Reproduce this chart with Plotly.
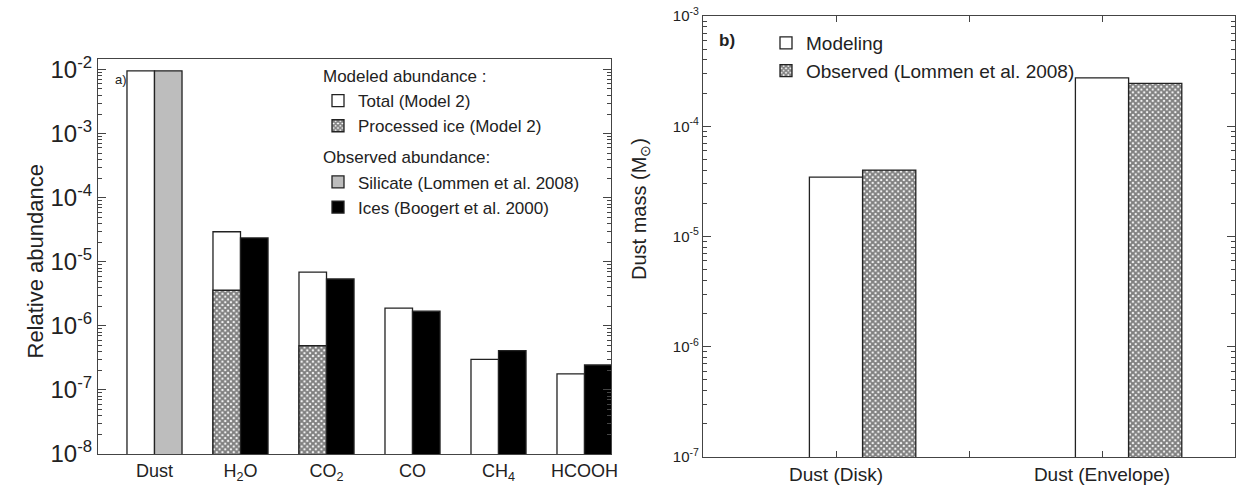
import numpy as np
import plotly.graph_objects as go

# ---- panel a: relative abundances ----
species = ["Dust", "H2O", "CO2", "CO", "CH4", "HCOOH"]
species_labels = ["Dust", "H<sub>2</sub>O", "CO<sub>2</sub>", "CO", "CH<sub>4</sub>", "HCOOH"]
total_model2 = [9.6e-3, 2.95e-5, 6.9e-6, 1.9e-6, 3.0e-7, 1.78e-7]
processed_species = ["H2O", "CO2"]
processed_model2 = [3.6e-6, 4.9e-7]
silicate_species = ["Dust"]
silicate_obs = [9.6e-3]
ice_species = ["H2O", "CO2", "CO", "CH4", "HCOOH"]
ice_obs = [2.36e-5, 5.4e-6, 1.7e-6, 4.1e-7, 2.45e-7]
decades_a = [-8, -7, -6, -5, -4, -3, -2]

# ---- panel b: dust mass ----
components = ["Dust (Disk)", "Dust (Envelope)"]
mass_model = [3.45e-5, 2.75e-4]
mass_obs = [4.0e-5, 2.45e-4]
decades_b = [-7, -6, -5, -4, -3]

W, H = 1239, 486
FONT = "Liberation Sans, Arial, sans-serif"
INK = "#222222"
LINE = "#444444"

hatch = dict(shape="x", size=4, solidity=0.75, fgcolor="#000000", bgcolor="white")
outline = dict(color=INK, width=1.3)

bw_a = 0.32
bw_b = 0.2

fig = go.Figure()

# panel a bars
fig.add_trace(go.Bar(
    x=species, y=total_model2, width=bw_a, offset=-bw_a,
    marker=dict(color="white", line=outline),
    name="Total (Model 2)", legend="legend", legendgroup="mod",
    legendgrouptitle=dict(text="Modeled abundance :"),
    xaxis="x", yaxis="y"))
fig.add_trace(go.Bar(
    x=processed_species, y=processed_model2, width=bw_a, offset=-bw_a,
    marker=dict(color="white", pattern=hatch, line=outline),
    name="Processed ice (Model 2)", legend="legend", legendgroup="mod",
    xaxis="x", yaxis="y"))
fig.add_trace(go.Bar(
    x=silicate_species, y=silicate_obs, width=bw_a, offset=0,
    marker=dict(color="#bdbdbd", line=outline),
    name="Silicate (Lommen et al. 2008)", legend="legend", legendgroup="obs",
    legendgrouptitle=dict(text="Observed abundance:"),
    xaxis="x", yaxis="y"))
fig.add_trace(go.Bar(
    x=ice_species, y=ice_obs, width=bw_a, offset=0,
    marker=dict(color="black", line=outline),
    name="Ices (Boogert et al. 2000)", legend="legend", legendgroup="obs",
    xaxis="x", yaxis="y"))

# panel b bars
xpos_b = np.arange(len(components)) + 1
fig.add_trace(go.Bar(
    x=xpos_b, y=mass_model, width=bw_b, offset=-bw_b / 2,
    marker=dict(color="white", line=outline),
    name="Modeling", legend="legend2",
    xaxis="x2", yaxis="y2"))
fig.add_trace(go.Bar(
    x=xpos_b, y=mass_obs, width=bw_b, offset=bw_b / 2,
    marker=dict(color="white", pattern=hatch, line=outline),
    name="Observed (Lommen et al. 2008)", legend="legend2",
    xaxis="x2", yaxis="y2"))


def dec_text(d):
    return "10<sup>%d</sup>" % d


def minor_vals(decades):
    return [k * 10.0 ** d for d in decades[:-1] for k in range(2, 10)]


def log_axis(decades):
    return dict(
        type="log", showgrid=False, zeroline=False,
        showline=True, linecolor=LINE, linewidth=1.3, mirror="ticks",
        ticks="inside", ticklen=8, tickcolor=LINE, tickwidth=1.2,
        tickmode="array", tickvals=[10.0 ** d for d in decades],
        ticktext=[dec_text(d) for d in decades],
        minor=dict(ticks="inside", ticklen=4, tickcolor=LINE, tickwidth=1,
                   tickmode="array", tickvals=minor_vals(decades), showgrid=False),
        automargin=False,
    )


fig.update_layout(
    width=W, height=H,
    margin=dict(l=0, r=0, t=0, b=0),
    paper_bgcolor="white", plot_bgcolor="white",
    font=dict(family=FONT, color=INK),
    barmode="overlay",
    xaxis=dict(
        domain=[98 / W, 611 / W], anchor="y",
        type="category", categoryorder="array", categoryarray=species,
        range=[-0.657, 5.308],
        tickmode="array", tickvals=species, ticktext=species_labels,
        tickfont=dict(size=18), ticks="",
        showline=True, linecolor=LINE, linewidth=1.3, mirror=True,
        showgrid=False, zeroline=False, automargin=False,
    ),
    yaxis=dict(
        log_axis(decades_a),
        domain=[1 - 454 / H, 1 - 59 / H], anchor="x",
        range=[-8, -1.833],
        tickfont=dict(size=24),
    ),
    xaxis2=dict(
        domain=[703 / W, 1235 / W], anchor="y2",
        range=[0.5, 2.5],
        tickmode="array", tickvals=[1, 1.5, 2],
        ticktext=[components[0], "", components[1]],
        tickfont=dict(size=19),
        ticks="inside", ticklen=6, tickcolor=LINE,
        showline=True, linecolor=LINE, linewidth=1.3, mirror="ticks",
        showgrid=False, zeroline=False, automargin=False,
    ),
    yaxis2=dict(
        log_axis(decades_b),
        domain=[1 - 457 / H, 1 - 16 / H], anchor="x2",
        range=[-7, -3],
        tickfont=dict(size=15),
    ),
    legend=dict(
        x=318 / W, y=1 - 58 / H, xanchor="left", yanchor="top",
        bgcolor="rgba(0,0,0,0)", font=dict(size=17),
        traceorder="grouped", tracegroupgap=6,
        grouptitlefont=dict(size=17),
    ),
    legend2=dict(
        x=766 / W, y=1 - 24 / H, xanchor="left", yanchor="top",
        bgcolor="rgba(0,0,0,0)", font=dict(size=19),
        tracegroupgap=0,
    ),
    showlegend=True,
)

fig.add_annotation(text="Relative abundance", textangle=-90,
                   x=20 / W, y=1 - 262 / H, xref="paper", yref="paper",
                   showarrow=False, font=dict(size=22))
fig.add_annotation(text="Dust mass (M<sub>⊙</sub>)", textangle=-90,
                   x=640 / W, y=1 - 209 / H, xref="paper", yref="paper",
                   showarrow=False, font=dict(size=20))
fig.add_annotation(text="a)", x=113 / W, y=1 - 70 / H, xref="paper", yref="paper",
                   showarrow=False, font=dict(size=13))
fig.add_annotation(text="<b>b)</b>", x=727 / W, y=1 - 29 / H, xref="paper", yref="paper",
                   showarrow=False, font=dict(size=17))

fig.write_html("out.html")
